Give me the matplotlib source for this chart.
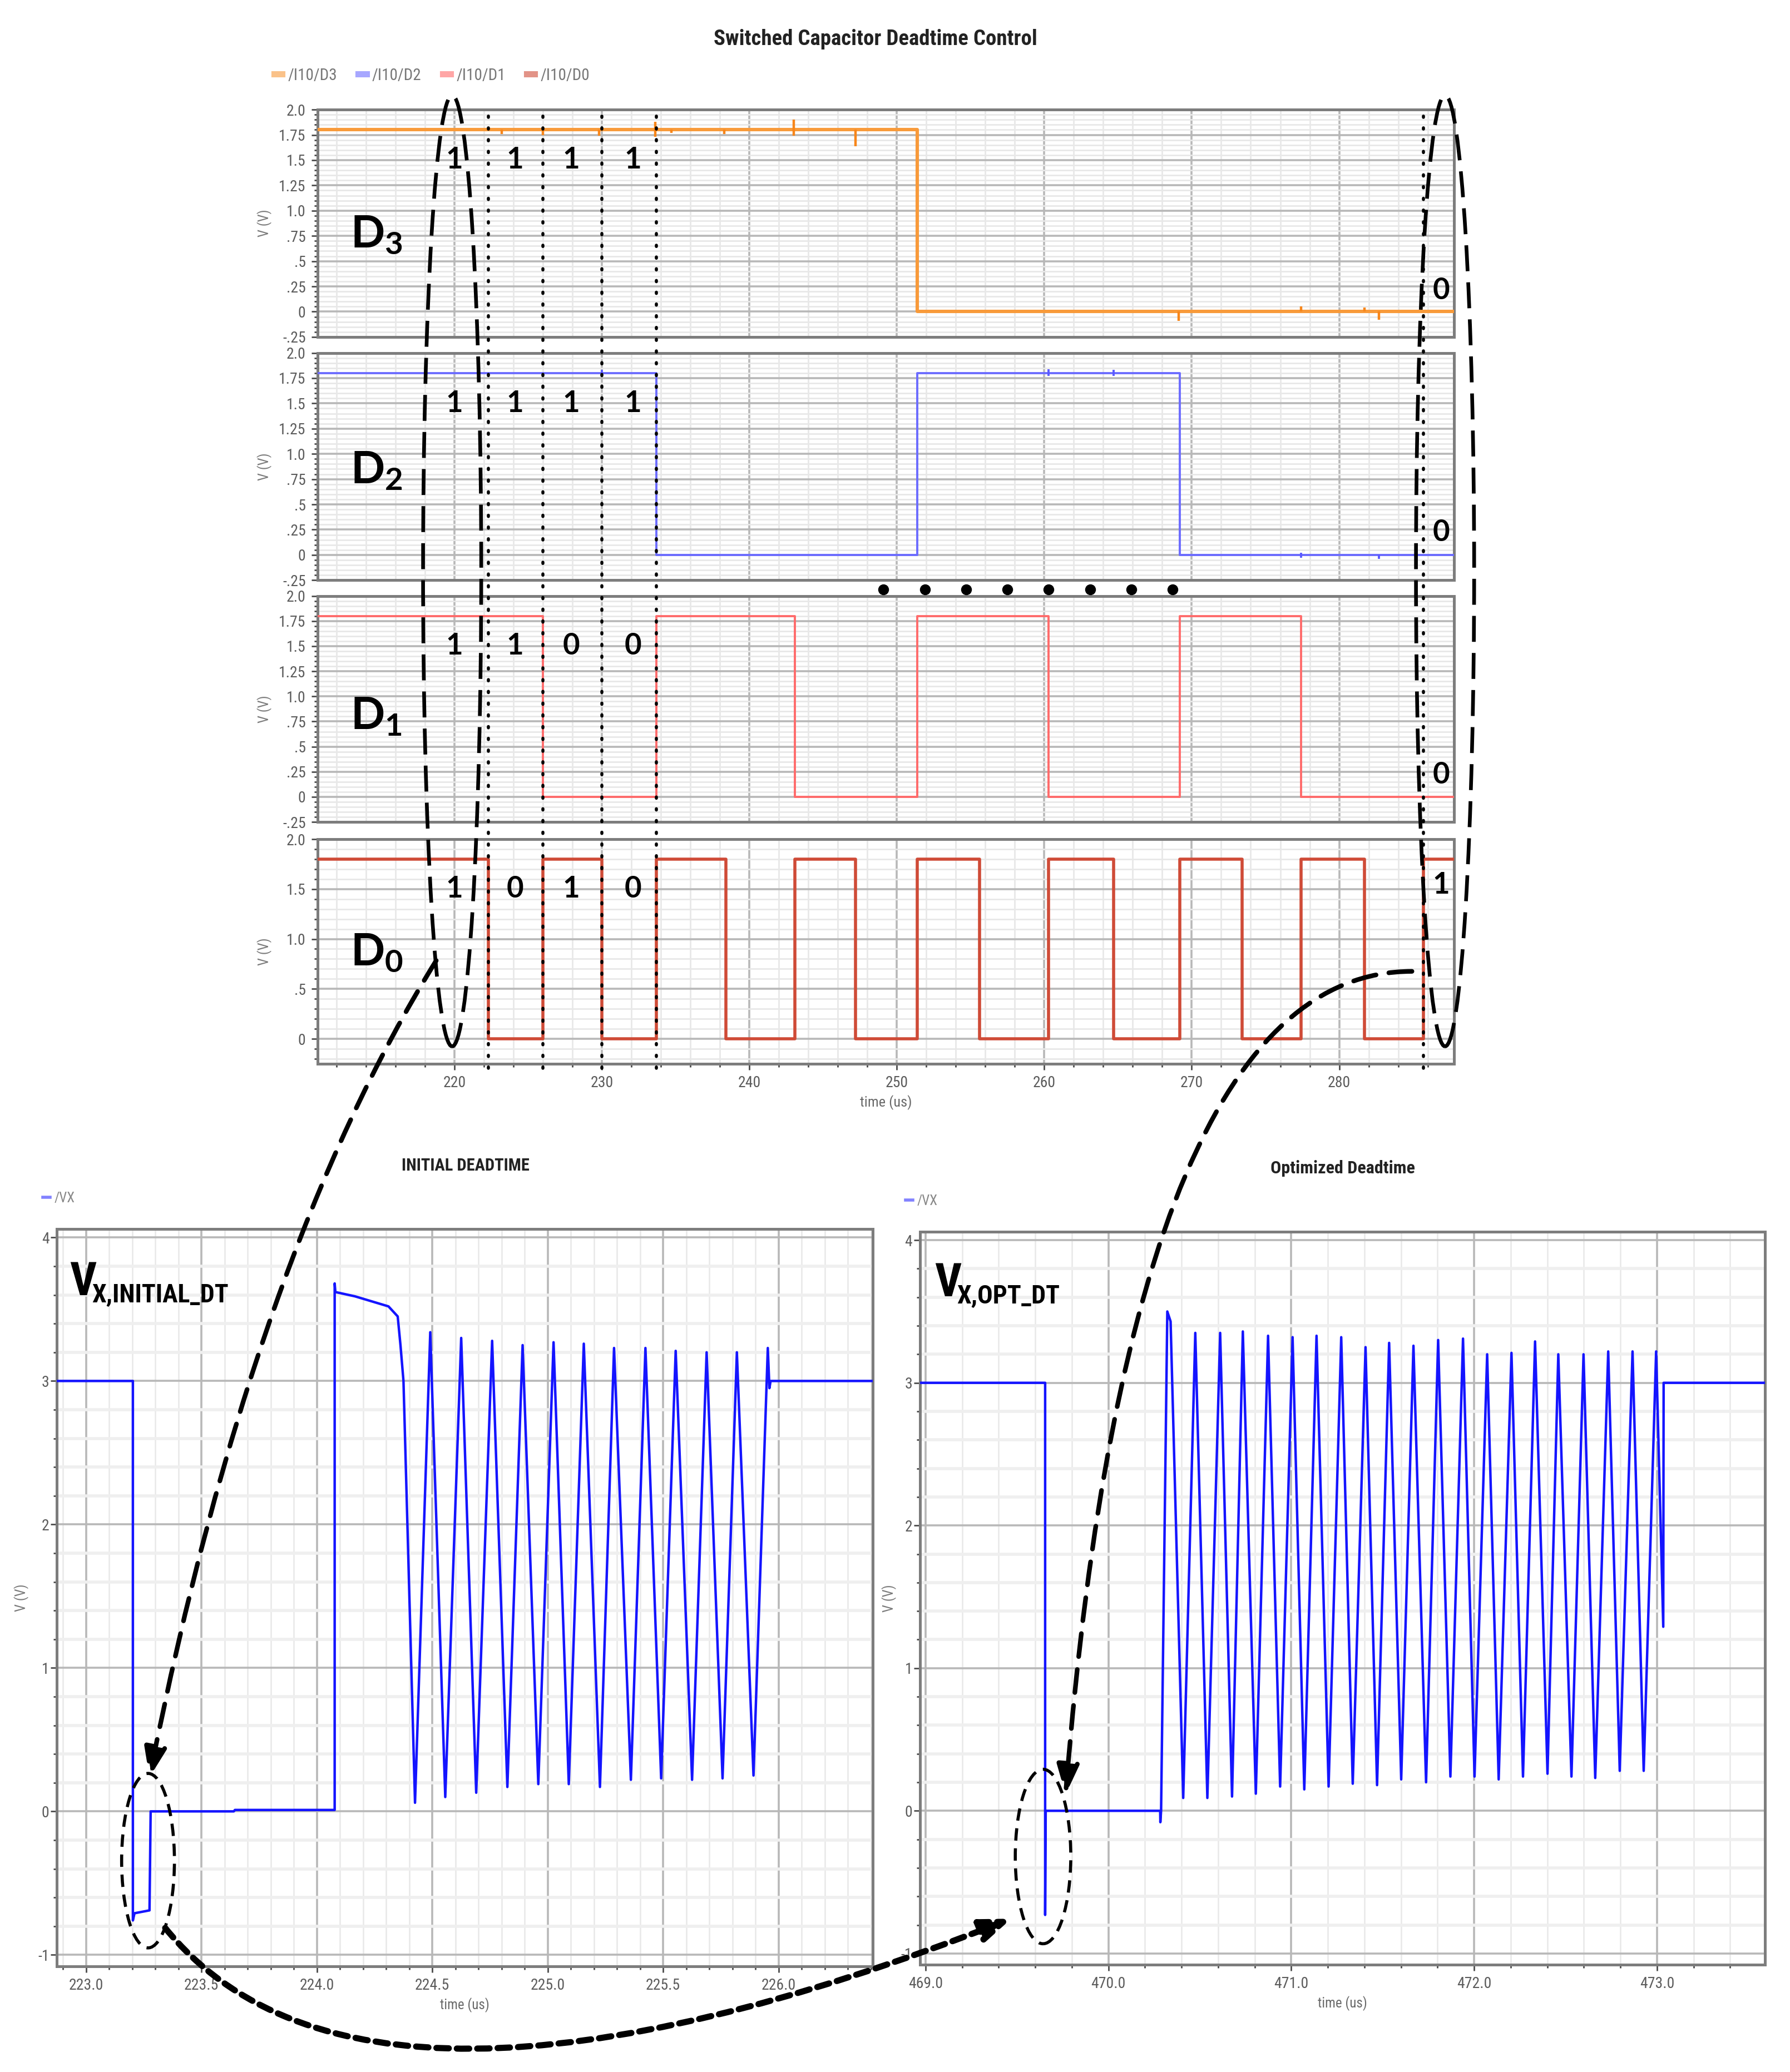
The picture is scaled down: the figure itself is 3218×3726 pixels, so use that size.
import matplotlib
matplotlib.use("Agg")
import matplotlib.pyplot as plt
from matplotlib import font_manager
from matplotlib.lines import Line2D
from matplotlib.patches import Ellipse, FancyArrowPatch
from matplotlib.path import Path
from matplotlib.ticker import FixedLocator, FixedFormatter, MultipleLocator
from matplotlib.transforms import blended_transform_factory

# ---- digital control word (V) against time (us) ----
d3_t = [210.0, 251.4, 288.0]
d3_v = [1.8, 0.0, 0.0]
d2_t = [210.0, 233.7, 251.4, 269.2, 288.0]
d2_v = [1.8, 0.0, 1.8, 0.0, 0.0]
d1_t = [210.0, 226.0, 233.7, 243.1, 251.4, 260.3, 269.2, 277.4, 288.0]
d1_v = [1.8, 0.0, 1.8, 0.0, 1.8, 0.0, 1.8, 0.0, 0.0]
d0_t = [210.0, 222.3, 226.0, 230.0, 233.7, 238.4, 243.1, 247.2, 251.4,
        255.6, 260.3, 264.7, 269.2, 273.4, 277.4, 281.7, 285.7, 288.0]
d0_v = [1.8, 0.0, 1.8, 0.0, 1.8, 0.0, 1.8, 0.0, 1.8,
        0.0, 1.8, 0.0, 1.8, 0.0, 1.8, 0.0, 1.8, 1.8]

# small switching glitches (time, low, high)
d3_glitch_t = [223.2, 226.0, 229.8, 233.6, 234.7, 238.3, 243.0, 247.2, 269.1, 277.4, 281.7, 282.7]
d3_glitch_lo = [1.76, 1.75, 1.74, 1.73, 1.77, 1.76, 1.74, 1.64, -0.09, 0.0, 0.0, -0.08]
d3_glitch_hi = [1.80, 1.80, 1.80, 1.88, 1.80, 1.80, 1.90, 1.80, 0.0, 0.05, 0.04, 0.0]
d2_glitch_t = [230.0, 260.3, 264.7, 277.4, 282.7]
d2_glitch_lo = [1.78, 1.77, 1.77, -0.03, -0.04]
d2_glitch_hi = [1.83, 1.84, 1.83, 0.02, 0.0]

digital_yticks = [-0.25, 0.0, 0.25, 0.5, 0.75, 1.0, 1.25, 1.5, 1.75, 2.0]
digital_ylabels = ["-.25", "0", ".25", ".5", ".75", "1.0", "1.25", "1.5", "1.75", "2.0"]
d0_yticks = [0.0, 0.5, 1.0, 1.5, 2.0]
d0_ylabels = ["0", ".5", "1.0", "1.5", "2.0"]
top_xticks = [220, 230, 240, 250, 260, 270, 280]
top_xlabels = ["220", "230", "240", "250", "260", "270", "280"]

# bit annotations
bit_edges = [222.3, 226.0, 230.0, 233.7, 285.7]
bit_pos = [220.0, 224.1, 227.9, 232.1]
bits_d3 = ["1", "1", "1", "1"]
bits_d2 = ["1", "1", "1", "1"]
bits_d1 = ["1", "1", "0", "0"]
bits_d0 = ["1", "0", "1", "0"]
final_bits = ["0", "0", "0", "1"]
final_bit_y = [0.21, 0.22, 0.22, 1.54]
bullet_t = [249.1, 251.9, 254.7, 257.5, 260.3, 263.1, 265.9, 268.7]

# ---- switch node voltage, initial deadtime ----
vx_init_t = [222.80, 223.203, 223.203, 223.21, 223.275, 223.28, 223.64, 223.645, 224.077,
             224.077, 224.08, 224.165, 224.31, 224.35, 224.362, 224.375,
             224.425, 224.491, 224.556, 224.625, 224.690, 224.759, 224.825, 224.891,
             224.959, 225.025, 225.091, 225.156, 225.226, 225.287, 225.360, 225.423,
             225.491, 225.554, 225.625, 225.688, 225.757, 225.819, 225.891, 225.953,
             225.960, 225.965, 226.60]
vx_init_v = [3.0, 3.0, -0.76, -0.71, -0.69, 0.0, 0.0, 0.01, 0.01,
             3.68, 3.62, 3.59, 3.52, 3.45, 3.25, 3.0,
             0.06, 3.34, 0.10, 3.30, 0.13, 3.28, 0.17, 3.25,
             0.19, 3.27, 0.19, 3.26, 0.17, 3.23, 0.22, 3.23,
             0.23, 3.21, 0.22, 3.20, 0.23, 3.20, 0.25, 3.23,
             2.95, 3.0, 3.0]

# ---- switch node voltage, optimized deadtime ----
vx_opt_t = [468.80, 469.654, 469.654, 469.657, 470.283, 470.284, 470.288,
            470.322, 470.340, 470.409, 470.475, 470.541, 470.611, 470.676, 470.735,
            470.806, 470.873, 470.939, 471.007, 471.071, 471.138, 471.204, 471.273,
            471.336, 471.406, 471.469, 471.535, 471.601, 471.668, 471.737, 471.803,
            471.870, 471.939, 472.002, 472.071, 472.134, 472.204, 472.267, 472.333,
            472.401, 472.460, 472.532, 472.598, 472.662, 472.733, 472.796, 472.866,
            472.927, 472.995, 473.034, 473.036, 473.70]
vx_opt_v = [3.0, 3.0, -0.73, 0.0, 0.0, -0.08, 0.0,
            3.50, 3.43, 0.09, 3.35, 0.09, 3.35, 0.10, 3.36,
            0.12, 3.33, 0.17, 3.32, 0.15, 3.33, 0.17, 3.32,
            0.19, 3.25, 0.18, 3.28, 0.22, 3.26, 0.20, 3.30,
            0.24, 3.31, 0.24, 3.20, 0.22, 3.21, 0.24, 3.29,
            0.26, 3.20, 0.24, 3.20, 0.23, 3.22, 0.28, 3.22,
            0.28, 3.22, 1.29, 3.0, 3.0]

bl_xticks = [223.0, 223.5, 224.0, 224.5, 225.0, 225.5, 226.0]
bl_xlabels = ["223.0", "223.5", "224.0", "224.5", "225.0", "225.5", "226.0"]
br_xticks = [469.0, 470.0, 471.0, 472.0, 473.0]
br_xlabels = ["469.0", "470.0", "471.0", "472.0", "473.0"]
vx_yticks = [-1, 0, 1, 2, 3, 4]
vx_ylabels = ["-1", "0", "1", "2", "3", "4"]

# ---- fonts ----
installed = {f.name for f in font_manager.fontManager.ttflist}


def pick(*names):
    for n in names:
        if n in installed:
            return n
    return "DejaVu Sans"


ui_font = pick("DejaVu Sans Condensed", "Liberation Sans Narrow", "Roboto Condensed", "DejaVu Sans")
narrow_font = pick("Liberation Sans Narrow", "Roboto Condensed", "DejaVu Sans Condensed", "Liberation Sans")
note_font = pick("Lato", "Open Sans", "DejaVu Sans")
plt.rcParams["font.family"] = [ui_font, "DejaVu Sans"]
plt.rcParams["mathtext.fontset"] = "custom"
plt.rcParams["mathtext.rm"] = note_font
plt.rcParams["mathtext.bf"] = note_font + ":bold"

GRID_MAJ = "#b8b8b8"
GRID_MIN = "#e8e8e8"
SPINE = "#7d7d7d"
TICKTXT = "#5c5c5c"

fig = plt.figure(figsize=(16.09, 18.63), dpi=200)
fig.patch.set_facecolor("white")


def style_common(ax):
    ax.set_facecolor("white")
    ax.set_axisbelow(True)
    for s in ax.spines.values():
        s.set_color(SPINE)
        s.set_linewidth(1.8)
    ax.tick_params(which="both", direction="out", color="#4d4d4d", labelcolor=TICKTXT,
                   labelsize=10, width=1.0)
    ax.tick_params(which="major", length=4)
    ax.tick_params(which="minor", length=2)


# ================= top: digital word =================
top_rects = [[0.1773, 0.8374, 0.6351, 0.1097],
             [0.1773, 0.7200, 0.6351, 0.1097],
             [0.1773, 0.6033, 0.6351, 0.1091],
             [0.1773, 0.4866, 0.6351, 0.1084]]
axes_top = [fig.add_axes(r) for r in top_rects]

signals = [(d3_t, d3_v, "#f89a3a", 2.2),
           (d2_t, d2_v, "#6c6cff", 1.4),
           (d1_t, d1_v, "#ff6b6b", 1.4),
           (d0_t, d0_v, "#cf4b37", 2.0)]

for i, (ax, (t, v, col, lw)) in enumerate(zip(axes_top, signals)):
    style_common(ax)
    ax.set_xlim(210.7, 287.8)
    ax.set_ylim(-0.25, 2.0)
    if i < 3:
        ax.yaxis.set_major_locator(FixedLocator(digital_yticks))
        ax.yaxis.set_major_formatter(FixedFormatter(digital_ylabels))
        ax.yaxis.set_minor_locator(MultipleLocator(0.05))
    else:
        ax.yaxis.set_major_locator(FixedLocator(d0_yticks))
        ax.yaxis.set_major_formatter(FixedFormatter(d0_ylabels))
        ax.yaxis.set_minor_locator(MultipleLocator(0.1))
    ax.xaxis.set_major_locator(FixedLocator(top_xticks))
    ax.xaxis.set_minor_locator(MultipleLocator(2))
    ax.grid(which="major", color=GRID_MAJ, lw=1.3)
    ax.grid(which="minor", color=GRID_MIN, lw=1.0)
    if i < 3:
        ax.tick_params(axis="x", which="both", length=0, labelbottom=False)
    else:
        ax.xaxis.set_major_formatter(FixedFormatter(top_xlabels))
        ax.set_xlabel("time (us)", fontsize=9.5, color="#6a6a6a", labelpad=3)
    ax.set_ylabel("V (V)", fontsize=9, color="#7a7a7a")
    ax.yaxis.set_label_coords(-0.040, 0.5)
    ax.plot(t, v, drawstyle="steps-post", color=col, lw=lw, zorder=3)

axes_top[0].vlines(d3_glitch_t, d3_glitch_lo, d3_glitch_hi, color="#f7861a", lw=1.6, zorder=3)
axes_top[1].vlines(d2_glitch_t, d2_glitch_lo, d2_glitch_hi, color="#5a5aff", lw=1.4, zorder=3)

fig.text(0.489, 0.981, "Switched Capacitor Deadtime Control", ha="center", va="center",
         fontsize=14, fontweight="bold", color="#222222")
leg_handles = [Line2D([], [], color=c, lw=4, alpha=0.6) for c in ["#f89a3a", "#6c6cff", "#ff6b6b", "#cf4b37"]]
fig.legend(leg_handles, ["/I10/D3", "/I10/D2", "/I10/D1", "/I10/D0"], loc="center left",
           bbox_to_anchor=(0.145, 0.9636), ncol=4, frameon=False, fontsize=10.5,
           labelcolor="#777777", handlelength=0.5, handletextpad=0.35, columnspacing=1.3)

# D labels
d_labels = [r"$\mathbf{D_3}$", r"$\mathbf{D_2}$", r"$\mathbf{D_1}$", r"$\mathbf{D_0}$"]
d_base = [0.395, 0.424, 0.41, 0.44]
for ax, lab, yb in zip(axes_top, d_labels, d_base):
    ax.text(0.029, yb, lab, transform=ax.transAxes, fontsize=29, ha="left", va="baseline",
            color="black", zorder=6)

# bit values
for ax, bits, fb, fy in zip(axes_top, [bits_d3, bits_d2, bits_d1, bits_d0], final_bits, final_bit_y):
    for x, b in zip(bit_pos, bits):
        ax.text(x, 1.5, b, ha="center", va="center", fontsize=19, fontweight="bold",
                family=[note_font, "DejaVu Sans"], zorder=6)
    ax.text(286.9, fy, fb, ha="center", va="center", fontsize=19, fontweight="bold",
            family=[note_font, "DejaVu Sans"], zorder=6)

# dotted bit boundaries across all four panels
blend = blended_transform_factory(axes_top[3].transData, fig.transFigure)
for t in bit_edges:
    fig.add_artist(Line2D([t, t], [0.4845, 0.949], transform=blend, color="black", lw=2.0,
                          ls=(0, (0.4, 3.4)), dash_capstyle="round"))
fig.add_artist(Line2D(bullet_t, [0.7156] * len(bullet_t), transform=blend, ls="none",
                      marker="o", ms=6, color="black"))

# ================= bottom: switch node =================
ax_bl = fig.add_axes([0.0318, 0.0510, 0.4557, 0.3559])
ax_br = fig.add_axes([0.5140, 0.0517, 0.4720, 0.3539])

for ax, t, v, xl, xt, xlab, mnx in [(ax_bl, vx_init_t, vx_init_v, (222.874, 226.407), bl_xticks, bl_xlabels, 0.1),
                                    (ax_br, vx_opt_t, vx_opt_v, (468.97, 473.59), br_xticks, br_xlabels, 0.2)]:
    style_common(ax)
    ax.set_xlim(*xl)
    ax.set_ylim(-1.08, 4.06)
    ax.xaxis.set_major_locator(FixedLocator(xt))
    ax.xaxis.set_major_formatter(FixedFormatter(xlab))
    ax.xaxis.set_minor_locator(MultipleLocator(mnx))
    ax.yaxis.set_major_locator(FixedLocator(vx_yticks))
    ax.yaxis.set_major_formatter(FixedFormatter(vx_ylabels))
    ax.yaxis.set_minor_locator(MultipleLocator(0.2))
    ax.grid(which="major", color=GRID_MAJ, lw=1.3)
    ax.grid(which="minor", axis="x", color=GRID_MIN, lw=0.9)
    ax.grid(which="minor", axis="y", color="#efefef", lw=2.0)
    ax.tick_params(axis="y", pad=1)
    ax.set_xlabel("time (us)", fontsize=9, color="#6a6a6a", labelpad=3)
    ax.set_ylabel("V (V)", fontsize=9, color="#7a7a7a")
    ax.plot(t, v, color="#1414ff", lw=1.6, zorder=3)

ax_bl.yaxis.set_label_coords(-0.034, 0.5)
ax_br.yaxis.set_label_coords(-0.028, 0.5)

fig.text(0.260, 0.4375, "INITIAL DEADTIME", ha="center", va="center", fontsize=11,
         fontweight="bold", color="#222222")
fig.text(0.750, 0.4362, "Optimized Deadtime", ha="center", va="center", fontsize=11.5,
         fontweight="bold", color="#222222")
for x0, y0 in [(0.017, 0.4216), (0.499, 0.4203)]:
    fig.legend([Line2D([], [], color="#4d4dff", lw=2, alpha=0.7)], ["/VX"], loc="center left",
               bbox_to_anchor=(x0, y0), frameon=False, fontsize=9, labelcolor="#888888",
               handlelength=0.5, handletextpad=0.3)

# V_X labels
fig.text(0.0389, 0.375, "V", fontsize=30, fontweight="bold", family=[narrow_font, "DejaVu Sans"], va="baseline")
fig.text(0.0513, 0.3718, "X,INITIAL_DT", fontsize=16.5, fontweight="bold", family=[narrow_font, "DejaVu Sans"], va="baseline")
fig.text(0.5222, 0.3744, "V", fontsize=30, fontweight="bold", family=[narrow_font, "DejaVu Sans"], va="baseline")
fig.text(0.5347, 0.3712, "X,OPT_DT", fontsize=16.5, fontweight="bold", family=[narrow_font, "DejaVu Sans"], va="baseline")

# ================= hand-drawn style annotations =================
for cx, cy, w, h, dash, lw in [(0.2526, 0.7245, 0.0325, 0.459, (7, 3), 2.4),
                               (0.8073, 0.7245, 0.0325, 0.459, (7, 3), 2.4),
                               (0.0827, 0.1020, 0.0295, 0.0842, (4, 2.5), 2.0),
                               (0.5827, 0.1040, 0.0310, 0.0842, (4, 2.5), 2.0)]:
    fig.add_artist(Ellipse((cx, cy), w, h, transform=fig.transFigure, fill=False,
                           ec="black", lw=lw, ls=(0, dash), zorder=10))


def curved_arrow(p0, ctrl, p1, dash, lw):
    path = Path([p0, ctrl, p1], [Path.MOVETO, Path.CURVE3, Path.CURVE3])
    arr = FancyArrowPatch(path=path, arrowstyle="-|>,head_length=0.8,head_width=0.3",
                          mutation_scale=20, transform=fig.transFigure, color="black",
                          lw=lw, ls=(0, dash), zorder=10)
    fig.add_artist(arr)


curved_arrow((0.2437, 0.5364), (0.1418, 0.3948), (0.0835, 0.1422), (5, 2.8), 3.0)
curved_arrow((0.7888, 0.5312), (0.6322, 0.5312), (0.5953, 0.1339), (5, 2.8), 3.0)
curved_arrow((0.0923, 0.0695), (0.2031, -0.0485), (0.5650, 0.0740), (2, 1.3), 4.0)

fig.savefig("out.png", dpi=200, facecolor="white")
